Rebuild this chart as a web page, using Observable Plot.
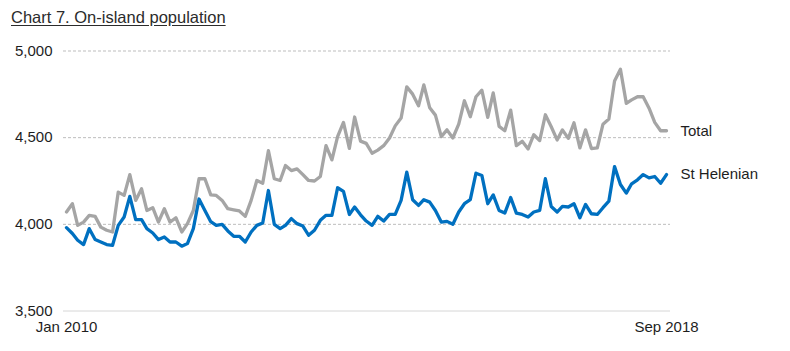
<!DOCTYPE html>
<html>
<head>
<meta charset="utf-8">
<script src="https://cdn.jsdelivr.net/npm/d3@7"></script>
<script src="https://cdn.jsdelivr.net/npm/@observablehq/plot@0.6"></script>
<style>
  html, body { margin: 0; padding: 0; background: #fff; }
  #title {
    height: 30px; box-sizing: border-box; padding: 9px 0 0 11px;
    font: 16.5px/16.5px Arial, "Liberation Sans", sans-serif; color: #2b2b2b;
  }
  #title span { text-decoration: underline; text-underline-offset: 2px; }
</style>
</head>
<body>
<div id="title"><span>Chart 7. On-island population</span></div>
<div id="chart"></div>
<script>
// Monthly series, Jan 2010 .. Sep 2018
const startYear = 2010, startMonth = 0;
const totalValues = [
  4071, 4119, 3994, 4013, 4052, 4046, 3984, 3966, 3956, 4186, 4167, 4287,
  4138, 4205, 4080, 4096, 4013, 4090, 4013, 4038, 3956, 4004, 4080, 4263,
  4263, 4170, 4167, 4138, 4090, 4084, 4077, 4046, 4138, 4253, 4237, 4425,
  4263, 4253, 4339, 4310, 4320, 4287, 4253, 4250, 4276, 4454, 4372, 4506,
  4588, 4438, 4619, 4480, 4467, 4410, 4428, 4454, 4498, 4568, 4613, 4793,
  4751, 4684, 4804, 4672, 4630, 4506, 4545, 4498, 4578, 4713, 4621, 4736,
  4774, 4617, 4758, 4565, 4540, 4659, 4454, 4479, 4435, 4517, 4483, 4632,
  4563, 4487, 4545, 4496, 4586, 4441, 4545, 4437, 4441, 4578, 4607, 4827,
  4895, 4698, 4718, 4736, 4736, 4670, 4588, 4540, 4540
];
const stHelenianValues = [
  3981, 3947, 3908, 3883, 3975, 3912, 3898, 3883, 3879, 3994, 4042, 4161,
  4027, 4027, 3975, 3950, 3912, 3927, 3898, 3898, 3874, 3889, 3975, 4146,
  4080, 4015, 3994, 4000, 3962, 3931, 3931, 3898, 3956, 3994, 4008, 4195,
  4000, 3975, 3994, 4033, 4004, 3990, 3937, 3966, 4023, 4052, 4052, 4211,
  4190, 4057, 4100, 4055, 4019, 3994, 4046, 4019, 4057, 4057, 4138, 4301,
  4142, 4109, 4142, 4128, 4080, 4013, 4017, 4000, 4071, 4119, 4142, 4295,
  4282, 4119, 4170, 4080, 4065, 4155, 4065, 4057, 4042, 4071, 4080, 4263,
  4103, 4071, 4103, 4100, 4119, 4038, 4115, 4061, 4057, 4096, 4134, 4333,
  4230, 4180, 4234, 4257, 4287, 4268, 4276, 4237, 4287
];
const seriesNames = ["Total", "St Helenian"];
const seriesColors = ["#a5a5a5", "#0070c0"];
const yTicks = [3500, 4000, 4500, 5000];
const xTickLabels = ["Jan 2010", "Sep 2018"];

const monthDate = i => new Date(Date.UTC(startYear, startMonth + i, 1));
const xTicks = [monthDate(0), monthDate(totalValues.length - 1)];
const tickLabel = new Map(xTicks.map((d, i) => [+d, xTickLabels[i]]));

const toRows = (vals, name) => vals.map((v, i) => ({date: monthDate(i), value: v, series: name}));
const totalRows = toRows(totalValues, seriesNames[0]);
const shRows = toRows(stHelenianValues, seriesNames[1]);
const lastPoints = [totalRows[totalRows.length - 1], shRows[shRows.length - 1]];

const chart = Plot.plot({
  width: 790,
  height: 321,
  marginLeft: 66,
  marginRight: 124,
  marginTop: 20.5,
  marginBottom: 40.5,
  style: {fontFamily: "Arial, 'Liberation Sans', sans-serif", fontSize: "15px", color: "#1e1e1e", background: "#fff"},
  x: {type: "utc", domain: xTicks},
  y: {domain: [3500, 5000]},
  marks: [
    Plot.ruleY(yTicks.filter(d => d !== 3500), {stroke: "#bdbdbd", strokeDasharray: "3,2", insetLeft: -3, insetRight: -4}),
    Plot.ruleY([3500], {stroke: "#d6d6d6", insetLeft: -3, insetRight: -4}),
    Plot.axisY({ticks: yTicks, tickSize: 0, tickPadding: 14, tickFormat: d3.format(","), label: null, fontSize: 15}),
    Plot.axisX({ticks: xTicks, tickSize: 0, tickPadding: 10, tickFormat: d => tickLabel.get(+d), label: null, fontSize: 15}),
    Plot.lineY(totalRows, {x: "date", y: "value", stroke: seriesColors[0], strokeWidth: 3.3, strokeLinejoin: "round"}),
    Plot.lineY(shRows, {x: "date", y: "value", stroke: seriesColors[1], strokeWidth: 3.3, strokeLinejoin: "round"}),
    Plot.text(lastPoints, {x: "date", y: "value", text: "series", dx: 14, textAnchor: "start", fontSize: 15, fill: "#1e1e1e"})
  ]
});
document.getElementById("chart").appendChild(chart);
</script>
</body>
</html>
